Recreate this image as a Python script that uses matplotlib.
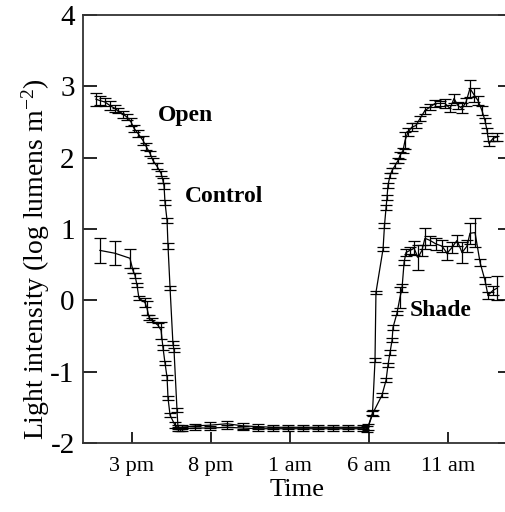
import matplotlib
matplotlib.use("Agg")
import matplotlib.pyplot as plt

plt.rcParams['font.family'] = ['Liberation Serif', 'DejaVu Serif']
plt.rcParams['axes.unicode_minus'] = False
plt.rcParams['mathtext.fontset'] = 'custom'
plt.rcParams['mathtext.rm'] = 'Liberation Serif'
plt.rcParams['mathtext.default'] = 'rm'

# time in hours (15 = 3 pm, 30 = 6 am next day)
open_t = [12.72, 12.97, 13.29, 13.61, 13.92, 14.11, 14.43, 14.68, 14.94, 15.13,
          15.38, 15.70, 15.89, 16.14, 16.33, 16.58, 16.84, 16.96, 17.03, 17.09,
          17.22, 17.28, 17.41, 17.59, 17.66, 17.85, 17.91, 18.04,
          18.16, 18.99, 19.94, 21.01, 22.03, 22.97, 23.92, 24.87, 25.82, 26.77,
          27.72, 28.67, 29.62,
          29.90, 30.22, 30.38, 30.44, 30.89, 30.98, 31.08, 31.14, 31.20, 31.33,
          31.46, 31.65, 31.84, 31.96, 32.15, 32.28, 32.47, 32.72, 32.97, 33.23,
          33.54, 33.86, 34.18, 34.49, 34.81, 35.13, 35.38, 35.63, 35.89, 36.14,
          36.39, 36.65, 36.90, 37.15, 37.34, 37.47, 37.59, 37.85, 38.10]
open_y = [2.82, 2.80, 2.78, 2.73, 2.69, 2.66, 2.61, 2.57, 2.50, 2.41,
          2.34, 2.24, 2.16, 2.06, 1.96, 1.88, 1.78, 1.68, 1.60, 1.37,
          1.12, 0.76, 0.17, -0.60, -0.70, -1.54, -1.78, -1.80,
          -1.78, -1.76, -1.75, -1.73, -1.76, -1.77, -1.78, -1.78, -1.78, -1.78,
          -1.78, -1.78, -1.78,
          -1.80, -1.58, -0.84, 0.11, 0.72, 1.05, 1.30, 1.44, 1.61, 1.75,
          1.82, 1.89, 1.96, 2.03, 2.10, 2.24, 2.36, 2.43, 2.45, 2.55,
          2.66, 2.71, 2.76, 2.76, 2.76, 2.69, 2.83, 2.73, 2.69, 2.78,
          2.97, 2.88, 2.80, 2.66, 2.52, 2.38, 2.20, 2.27, 2.29]
open_err = [0.09, 0.06, 0.05, 0.06, 0.05, 0.04, 0.05, 0.04, 0.06, 0.05,
            0.05, 0.06, 0.05, 0.04, 0.04, 0.04, 0.04, 0.04, 0.04, 0.03,
            0.03, 0.04, 0.03, 0.03, 0.03, 0.03, 0.03, 0.03,
            0.03, 0.03, 0.04, 0.04, 0.04, 0.03, 0.03, 0.03, 0.03, 0.03,
            0.03, 0.03, 0.03,
            0.04, 0.03, 0.03, 0.02, 0.03, 0.03, 0.03, 0.03, 0.03, 0.04,
            0.03, 0.03, 0.03, 0.05, 0.04, 0.12, 0.06, 0.05, 0.04, 0.04,
            0.05, 0.04, 0.05, 0.04, 0.06, 0.05, 0.06, 0.05, 0.07, 0.06,
            0.12, 0.10, 0.06, 0.06, 0.04, 0.04, 0.04, 0.04, 0.05]

shade_t = [12.97, 13.92, 14.87, 15.06, 15.19, 15.32, 15.44, 15.82, 15.95, 16.08,
           16.27, 16.65, 16.84, 16.96, 17.09, 17.22, 17.28, 17.41, 17.72, 17.91,
           18.16, 18.99, 19.94, 21.01, 22.03, 22.97, 23.92, 24.87, 25.82, 26.77,
           27.72, 28.67, 29.62,
           29.94, 30.25, 30.82, 31.08, 31.20, 31.33, 31.46, 31.52, 31.77, 31.96,
           32.09, 32.22, 32.34, 32.59, 32.85, 33.10, 33.35, 33.54, 33.86, 34.24,
           34.62, 34.94, 35.25, 35.57, 35.89, 36.20, 36.39, 36.71, 37.03, 37.34,
           37.53, 37.85, 38.10]
shade_y = [0.70, 0.66, 0.59, 0.42, 0.35, 0.21, 0.03, -0.03, -0.11, -0.24,
           -0.28, -0.35, -0.42, -0.66, -0.88, -1.08, -1.37, -1.61, -1.75, -1.80,
           -1.80, -1.79, -1.79, -1.78, -1.79, -1.80, -1.80, -1.80, -1.80, -1.80,
           -1.80, -1.80, -1.80,
           -1.78, -1.58, -1.33, -1.12, -0.91, -0.73, -0.56, -0.38, -0.18, 0.04,
           0.17, 0.53, 0.67, 0.70, 0.73, 0.60, 0.70, 0.87, 0.84, 0.79,
           0.76, 0.66, 0.74, 0.84, 0.67, 0.76, 0.94, 0.95, 0.53, 0.28,
           0.07, 0.14, 0.17]
shade_err = [0.17, 0.17, 0.13, 0.04, 0.04, 0.03, 0.03, 0.06, 0.10, 0.04,
             0.03, 0.03, 0.12, 0.03, 0.03, 0.03, 0.03, 0.03, 0.04, 0.03,
             0.03, 0.03, 0.03, 0.03, 0.03, 0.03, 0.03, 0.03, 0.03, 0.03,
             0.03, 0.03, 0.03,
             0.04, 0.04, 0.03, 0.03, 0.03, 0.03, 0.03, 0.03, 0.03, 0.15,
             0.06, 0.04, 0.05, 0.05, 0.10, 0.17, 0.08, 0.15, 0.06, 0.08,
             0.08, 0.10, 0.08, 0.08, 0.15, 0.08, 0.15, 0.20, 0.05, 0.05,
             0.05, 0.06, 0.17]

tick_pos = [15, 20, 25, 30, 35]
tick_lab = ['3 pm', '8 pm', '1 am', '6 am', '11 am']

fig = plt.figure(figsize=(5.05, 5.12), dpi=100)
ax = fig.add_axes([83/505, 1 - 443/512, 429/505, 428/512])

for t, y, e in [(open_t, open_y, open_err), (shade_t, shade_y, shade_err)]:
    ax.errorbar(t, y, yerr=e, color='black', lw=0.9, elinewidth=0.9,
                capsize=4.5, capthick=0.9)

ax.set_xlim(11.9, 39.05)
ax.set_ylim(-2, 4)
ax.set_xticks(tick_pos)
ax.set_xticklabels(tick_lab, fontsize=16)
ax.set_yticks(range(-2, 5))
ax.tick_params(axis='y', labelsize=21, direction='in', length=10, width=1.2,
               right=True, pad=6)
ax.tick_params(axis='x', direction='in', length=8, width=1.2, pad=10)
for s in ax.spines.values():
    s.set_linewidth(1.3)
    s.set_color('#333333')

ax.set_xlabel('Time', fontsize=19, labelpad=2)
ax.set_ylabel('Light intensity (log lumens m$^{-2}$)', fontsize=20)
ax.yaxis.set_label_coords(-0.072, 0.43)

ax.annotate('Open', xy=(158/505, 1 - 115/512), xycoords='figure fraction',
            fontsize=17, fontweight='bold', va='center', ha='left')
ax.annotate('Control', xy=(185/505, 1 - 197/512), xycoords='figure fraction',
            fontsize=17, fontweight='bold', va='center', ha='left')
ax.annotate('Shade', xy=(410/505, 1 - 310/512), xycoords='figure fraction',
            fontsize=17, fontweight='bold', va='center', ha='left')

fig.savefig('out.png', dpi=100)
